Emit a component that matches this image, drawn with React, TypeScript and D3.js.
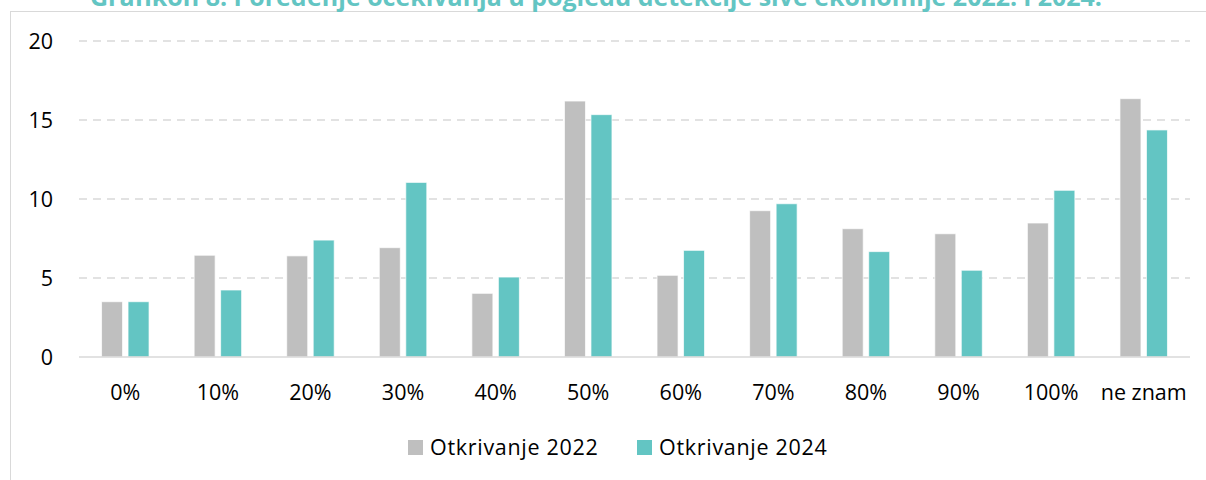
import React from "react";
import * as d3 from "d3";

const categories = ["0%", "10%", "20%", "30%", "40%", "50%", "60%", "70%", "80%", "90%", "100%", "ne znam"];
const series2022 = [3.5, 6.44, 6.4, 6.92, 4.03, 16.2, 5.17, 9.26, 8.12, 7.8, 8.48, 16.35];
const series2024 = [3.5, 4.24, 7.4, 11.05, 5.06, 15.34, 6.75, 9.7, 6.67, 5.49, 10.55, 14.37];
const seriesNames = ["Otkrivanje 2022", "Otkrivanje 2024"];
const seriesColors = ["#bfbfbf", "#63c5c3"];
const yTicks = [0, 5, 10, 15, 20];
const title = "Grafikon 8: Poređenje očekivanja u pogledu detekcije sive ekonomije 2022. i 2024.";

const W = 1206;
const H = 480;
const FONT = "'Open Sans', sans-serif";

export default function App() {
  const x = d3.scaleBand<string>().domain(categories).range([79, 1190]).padding(0);
  const inner = d3
    .scaleBand<string>()
    .domain(seriesNames)
    .range([0, x.bandwidth()])
    .paddingInner(0.2075)
    .paddingOuter(0.851);
  const y = d3.scaleLinear().domain([0, 20]).range([357, 41]);
  const data = [series2022, series2024];

  return (
    <svg
      width={W}
      height={H}
      style={{ position: "absolute", left: 0, top: 0, background: "#fff" }}
      fontFamily={FONT}
    >
      <rect x={0} y={0} width={W} height={H} fill="#fff" />
      <rect x={10.5} y={11.5} width={W + 20} height={H + 20} fill="#fff" stroke="#d9d9d9" strokeWidth={1} />
      <text
        x={596}
        y={6}
        textAnchor="middle"
        fontFamily="'Open Sans', sans-serif"
        fontWeight="bold"
        fontSize={25}
        textLength={1012}
        lengthAdjust="spacingAndGlyphs"
        fill="#63c5c3"
      >
        {title}
      </text>
      {yTicks.filter((t) => t > 0).map((t) => (
        <line
          key={"g" + t}
          x1={79}
          x2={1190}
          y1={y(t)}
          y2={y(t)}
          stroke="#d9d9d9"
          strokeWidth={1.3}
          strokeDasharray="8,6"
        />
      ))}
      {yTicks.map((t) => (
        <text key={"t" + t} x={53} y={y(t)} dy="0.35em" textAnchor="end" fontSize={21.5} fill="#000">
          {t}
        </text>
      ))}
      {categories.map((c, i) => (
        <g key={c} transform={`translate(${x(c)},0)`}>
          {data.map((s, j) => (
            <rect
              key={j}
              x={inner(seriesNames[j])}
              y={y(s[i])}
              width={inner.bandwidth()}
              height={y(0) - y(s[i])}
              fill={seriesColors[j]}
              stroke="#ffffff"
              strokeOpacity={0.7}
              strokeWidth={1}
            />
          ))}
          <text x={x.bandwidth() / 2} y={392} dy="0.35em" textAnchor="middle" fontSize={21.5} fill="#000">
            {c}
          </text>
        </g>
      ))}
      <line x1={79} x2={1190} y1={y(0)} y2={y(0)} stroke="#d9d9d9" strokeWidth={1.5} />
      {seriesNames.map((n, j) => {
        const lx = [408, 637][j];
        return (
          <g key={n}>
            <rect x={lx} y={440} width={15} height={15} fill={seriesColors[j]} />
            <text x={lx + 22} y={447.5} dy="0.35em" fontSize={21.5} letterSpacing={0.7} fill="#000">
              {n}
            </text>
          </g>
        );
      })}
    </svg>
  );
}
